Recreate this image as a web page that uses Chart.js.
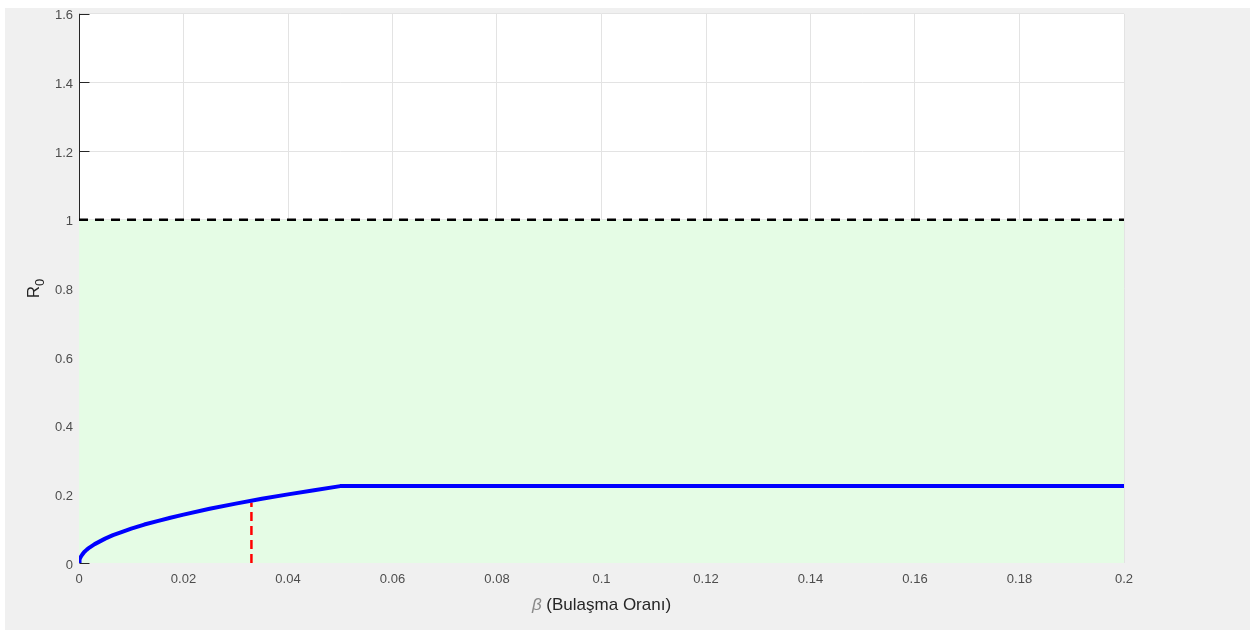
<!DOCTYPE html>
<html>
<head>
<meta charset="utf-8">
<script src="https://cdn.jsdelivr.net/npm/chart.js@4/dist/chart.umd.min.js"></script>
<style>
  html, body { margin: 0; padding: 0; background: #ffffff; width: 1250px; height: 630px; overflow: hidden; }
  #panel { position: absolute; left: 5px; top: 8px; right: 0; bottom: 0; background: #f0f0f0; }
  #wrap { position: absolute; left: 0; top: 0; width: 1250px; height: 630px; }
</style>
</head>
<body>
<div id="panel"></div>
<div id="wrap"><canvas id="c" width="1250" height="630"></canvas></div>
<script>
// ---- data ----
const betaValues = [0, 0.0001, 0.0003, 0.0006, 0.001, 0.0015, 0.002, 0.003, 0.004, 0.005, 0.0065, 0.008, 0.01, 0.0125, 0.015, 0.0175, 0.02, 0.025, 0.03, 0.035, 0.04, 0.045, 0.05, 0.2];
const r0Values   = [0, 0.010, 0.017, 0.024, 0.032, 0.039, 0.045, 0.055, 0.063, 0.071, 0.081, 0.089, 0.1, 0.112, 0.122, 0.132, 0.141, 0.158, 0.173, 0.187, 0.2, 0.212, 0.224, 0.224];
const thresholdX = [0, 0.2];
const thresholdY = [1, 1];
const markerX = [0.033, 0.033];
const markerY = [0, 0.176];
const xTickValues = [0, 0.02, 0.04, 0.06, 0.08, 0.1, 0.12, 0.14, 0.16, 0.18, 0.2];
const xTickLabels = ['0', '0.02', '0.04', '0.06', '0.08', '0.1', '0.12', '0.14', '0.16', '0.18', '0.2'];
const yTickValues = [0, 0.2, 0.4, 0.6, 0.8, 1, 1.2, 1.4, 1.6];
const yTickLabels = ['0', '0.2', '0.4', '0.6', '0.8', '1', '1.2', '1.4', '1.6'];
const xTitleSymbol = 'β';
const xTitleText = ' (Bulaşma Oranı)';
const yTitleMain = 'R';
const yTitleSub = '0';

const pts = (xs, ys) => xs.map((x, i) => ({ x: x, y: ys[i] }));
const FONT = "'Liberation Sans', Arial, Helvetica, sans-serif";

const decor = {
  id: 'decor',
  beforeDraw(chart) {
    const { ctx, chartArea: a } = chart;
    ctx.save();
    ctx.fillStyle = '#ffffff';
    ctx.fillRect(a.left, a.top, a.right - a.left, a.bottom - a.top);
    ctx.restore();
  },
  beforeDatasetsDraw(chart) {
    const { ctx, chartArea: a, scales } = chart;
    const ys = scales.y;
    ctx.save();
    ctx.strokeStyle = '#262626';
    ctx.lineWidth = 1;
    ctx.beginPath();
    const lx = Math.round(a.left) + 0.5;
    ctx.moveTo(lx, a.top);
    ctx.lineTo(lx, a.bottom);
    yTickValues.forEach(v => {
      const py = Math.round(ys.getPixelForValue(v)) + 0.5;
      ctx.moveTo(lx, py);
      ctx.lineTo(lx + 10, py);
    });
    ctx.stroke();
    ctx.restore();
  },
  afterDraw(chart) {
    const { ctx, chartArea: a } = chart;
    ctx.save();
    // x title
    const cx = (a.left + a.right) / 2;
    const ty = 605;
    ctx.textBaseline = 'middle';
    ctx.font = 'italic 17px ' + FONT;
    const w1 = ctx.measureText(xTitleSymbol).width;
    ctx.font = '17px ' + FONT;
    const w2 = ctx.measureText(xTitleText).width;
    let sx = cx - (w1 + w2) / 2;
    ctx.textAlign = 'left';
    ctx.font = 'italic 17px ' + FONT;
    ctx.fillStyle = '#8a8a8a';
    ctx.fillText(xTitleSymbol, sx, ty);
    ctx.font = '17px ' + FONT;
    ctx.fillStyle = '#262626';
    ctx.fillText(xTitleText, sx + w1, ty);
    // y title (rotated)
    const cy = (a.top + a.bottom) / 2;
    ctx.translate(39, cy);
    ctx.rotate(-Math.PI / 2);
    ctx.font = '17px ' + FONT;
    const wr = ctx.measureText(yTitleMain).width;
    ctx.font = '13px ' + FONT;
    const ws = ctx.measureText(yTitleSub).width;
    const start = -(wr + ws) / 2;
    ctx.textBaseline = 'alphabetic';
    ctx.fillStyle = '#262626';
    ctx.font = '17px ' + FONT;
    ctx.fillText(yTitleMain, start, 0);
    ctx.font = '13px ' + FONT;
    ctx.fillText(yTitleSub, start + wr, 5);
    ctx.restore();
  }
};

new Chart(document.getElementById('c'), {
  type: 'line',
  data: {
    datasets: [
      {
        label: 'R0',
        data: pts(betaValues, r0Values),
        borderColor: '#0000ff',
        borderWidth: 4,
        pointRadius: 0,
        fill: false,
        tension: 0,
        borderCapStyle: 'butt',
        borderJoinStyle: 'round'
      },
      {
        label: 'marker',
        data: pts(markerX, markerY),
        borderColor: '#ff0000',
        borderWidth: 2.5,
        borderDash: [9, 5],
        pointRadius: 0,
        fill: false
      },
      {
        label: 'threshold',
        data: pts(thresholdX, thresholdY),
        borderColor: '#000000',
        borderWidth: 2.5,
        borderDash: [9, 7],
        pointRadius: 0,
        fill: 'origin',
        backgroundColor: '#e5fce5'
      }
    ]
  },
  options: {
    responsive: false,
    animation: false,
    events: [],
    layout: { padding: { left: 0, top: 13, right: 126, bottom: 0 } },
    plugins: { legend: { display: false }, tooltip: { enabled: false }, title: { display: false } },
    scales: {
      x: {
        type: 'linear',
        min: 0, max: 0.2,
        afterBuildTicks: s => { s.ticks = xTickValues.map(v => ({ value: v })); },
        afterFit: s => { s.height = 67; },
        ticks: {
          callback: (v, i) => xTickLabels[i],
          color: '#4d4d4d',
          font: { family: FONT, size: 13 },
          padding: 9,
          maxRotation: 0,
          autoSkip: false
        },
        grid: { color: '#e3e3e3', drawTicks: false, lineWidth: 1 },
        border: { display: false }
      },
      y: {
        type: 'linear',
        min: 0, max: 1.6,
        afterBuildTicks: s => { s.ticks = yTickValues.map(v => ({ value: v })); },
        afterFit: s => { s.width = 79; },
        ticks: {
          callback: (v, i) => yTickLabels[i],
          color: '#4d4d4d',
          font: { family: FONT, size: 13 },
          padding: 6,
          labelOffset: 2,
          autoSkip: false
        },
        grid: {
          color: ctx => (ctx.tick && ctx.tick.value === 0) ? 'rgba(0,0,0,0)' : '#e3e3e3',
          drawTicks: false, lineWidth: 1
        },
        border: { display: false }
      }
    }
  },
  plugins: [decor]
});
</script>
</body>
</html>
